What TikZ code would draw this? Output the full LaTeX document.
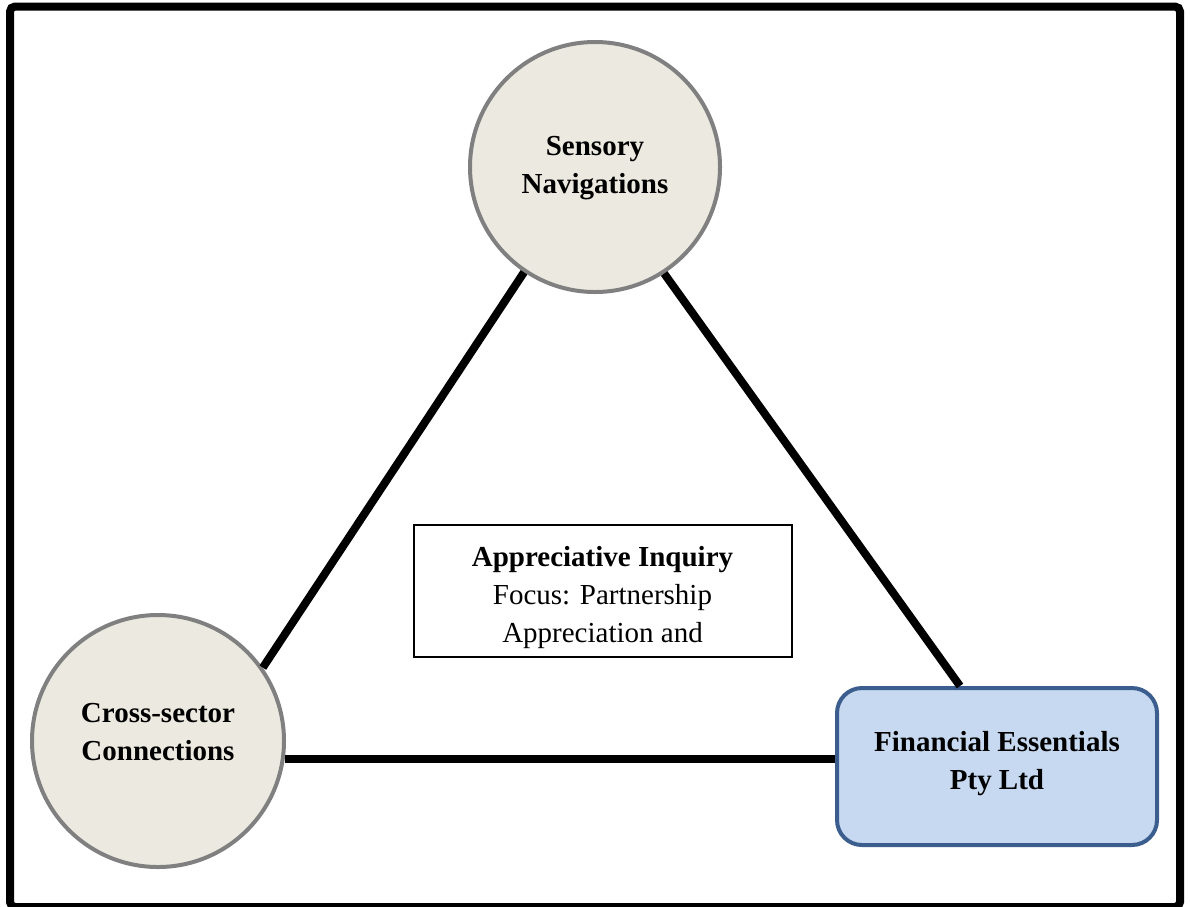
\documentclass[tikz,border=0pt]{standalone}
\usepackage{fontspec}
\setmainfont{Liberation Serif}
\definecolor{circfill}{RGB}{236,234,224}
\definecolor{circline}{RGB}{128,128,128}
\definecolor{boxfill}{RGB}{198,217,240}
\definecolor{boxline}{RGB}{59,94,143}
\newcommand{\liftlines}[2]{\raisebox{#1}[\height][\depth]{\begin{tabular}{@{}c@{}}#2\end{tabular}}}
\begin{document}
\begin{tikzpicture}[x=1pt,y=-1pt,
  hub/.style={circle, draw=circline, fill=circfill, line width=4pt, inner sep=0pt, align=center, font=\fontsize{29}{38}\selectfont\bfseries},
  partner/.style={rectangle, rounded corners=25pt, draw=boxline, fill=boxfill, line width=4pt, minimum width=320pt, minimum height=157pt, inner sep=0pt, align=center, font=\fontsize{29}{38}\selectfont\bfseries},
  infobox/.style={rectangle, draw=black, line width=2pt, fill=white, minimum width=378pt, minimum height=132pt, inner sep=0pt, align=center, font=\fontsize{29}{38}\selectfont},
  link/.style={line width=8pt, black}]
\useasboundingbox (0,0) rectangle (1190,906);
\draw[line width=8pt, rounded corners=5pt] (10,6.5) rectangle (1180,907);
\node[hub, minimum size=250pt] (top) at (595,167) {\liftlines{0pt}{Sensory\\Navigations}};
\node[hub, minimum size=252pt] (left) at (158,741) {\liftlines{7pt}{Cross-sector\\Connections}};
\node[partner] (fin) at (997,766.5) {\liftlines{4pt}{Financial Essentials\\Pty Ltd}};
\node[infobox] (ai) at (602.5,591) {\liftlines{-6pt}{\textbf{Appreciative Inquiry}\\Focus: Partnership\\Appreciation and}};
\draw[link] (top.236) -- (left.35);
\draw[link] (top.-57) -- ([xshift=-37pt]fin.north);
\draw[link] (left.-8) -- (left.-8 -| fin.west);
\end{tikzpicture}
\end{document}
